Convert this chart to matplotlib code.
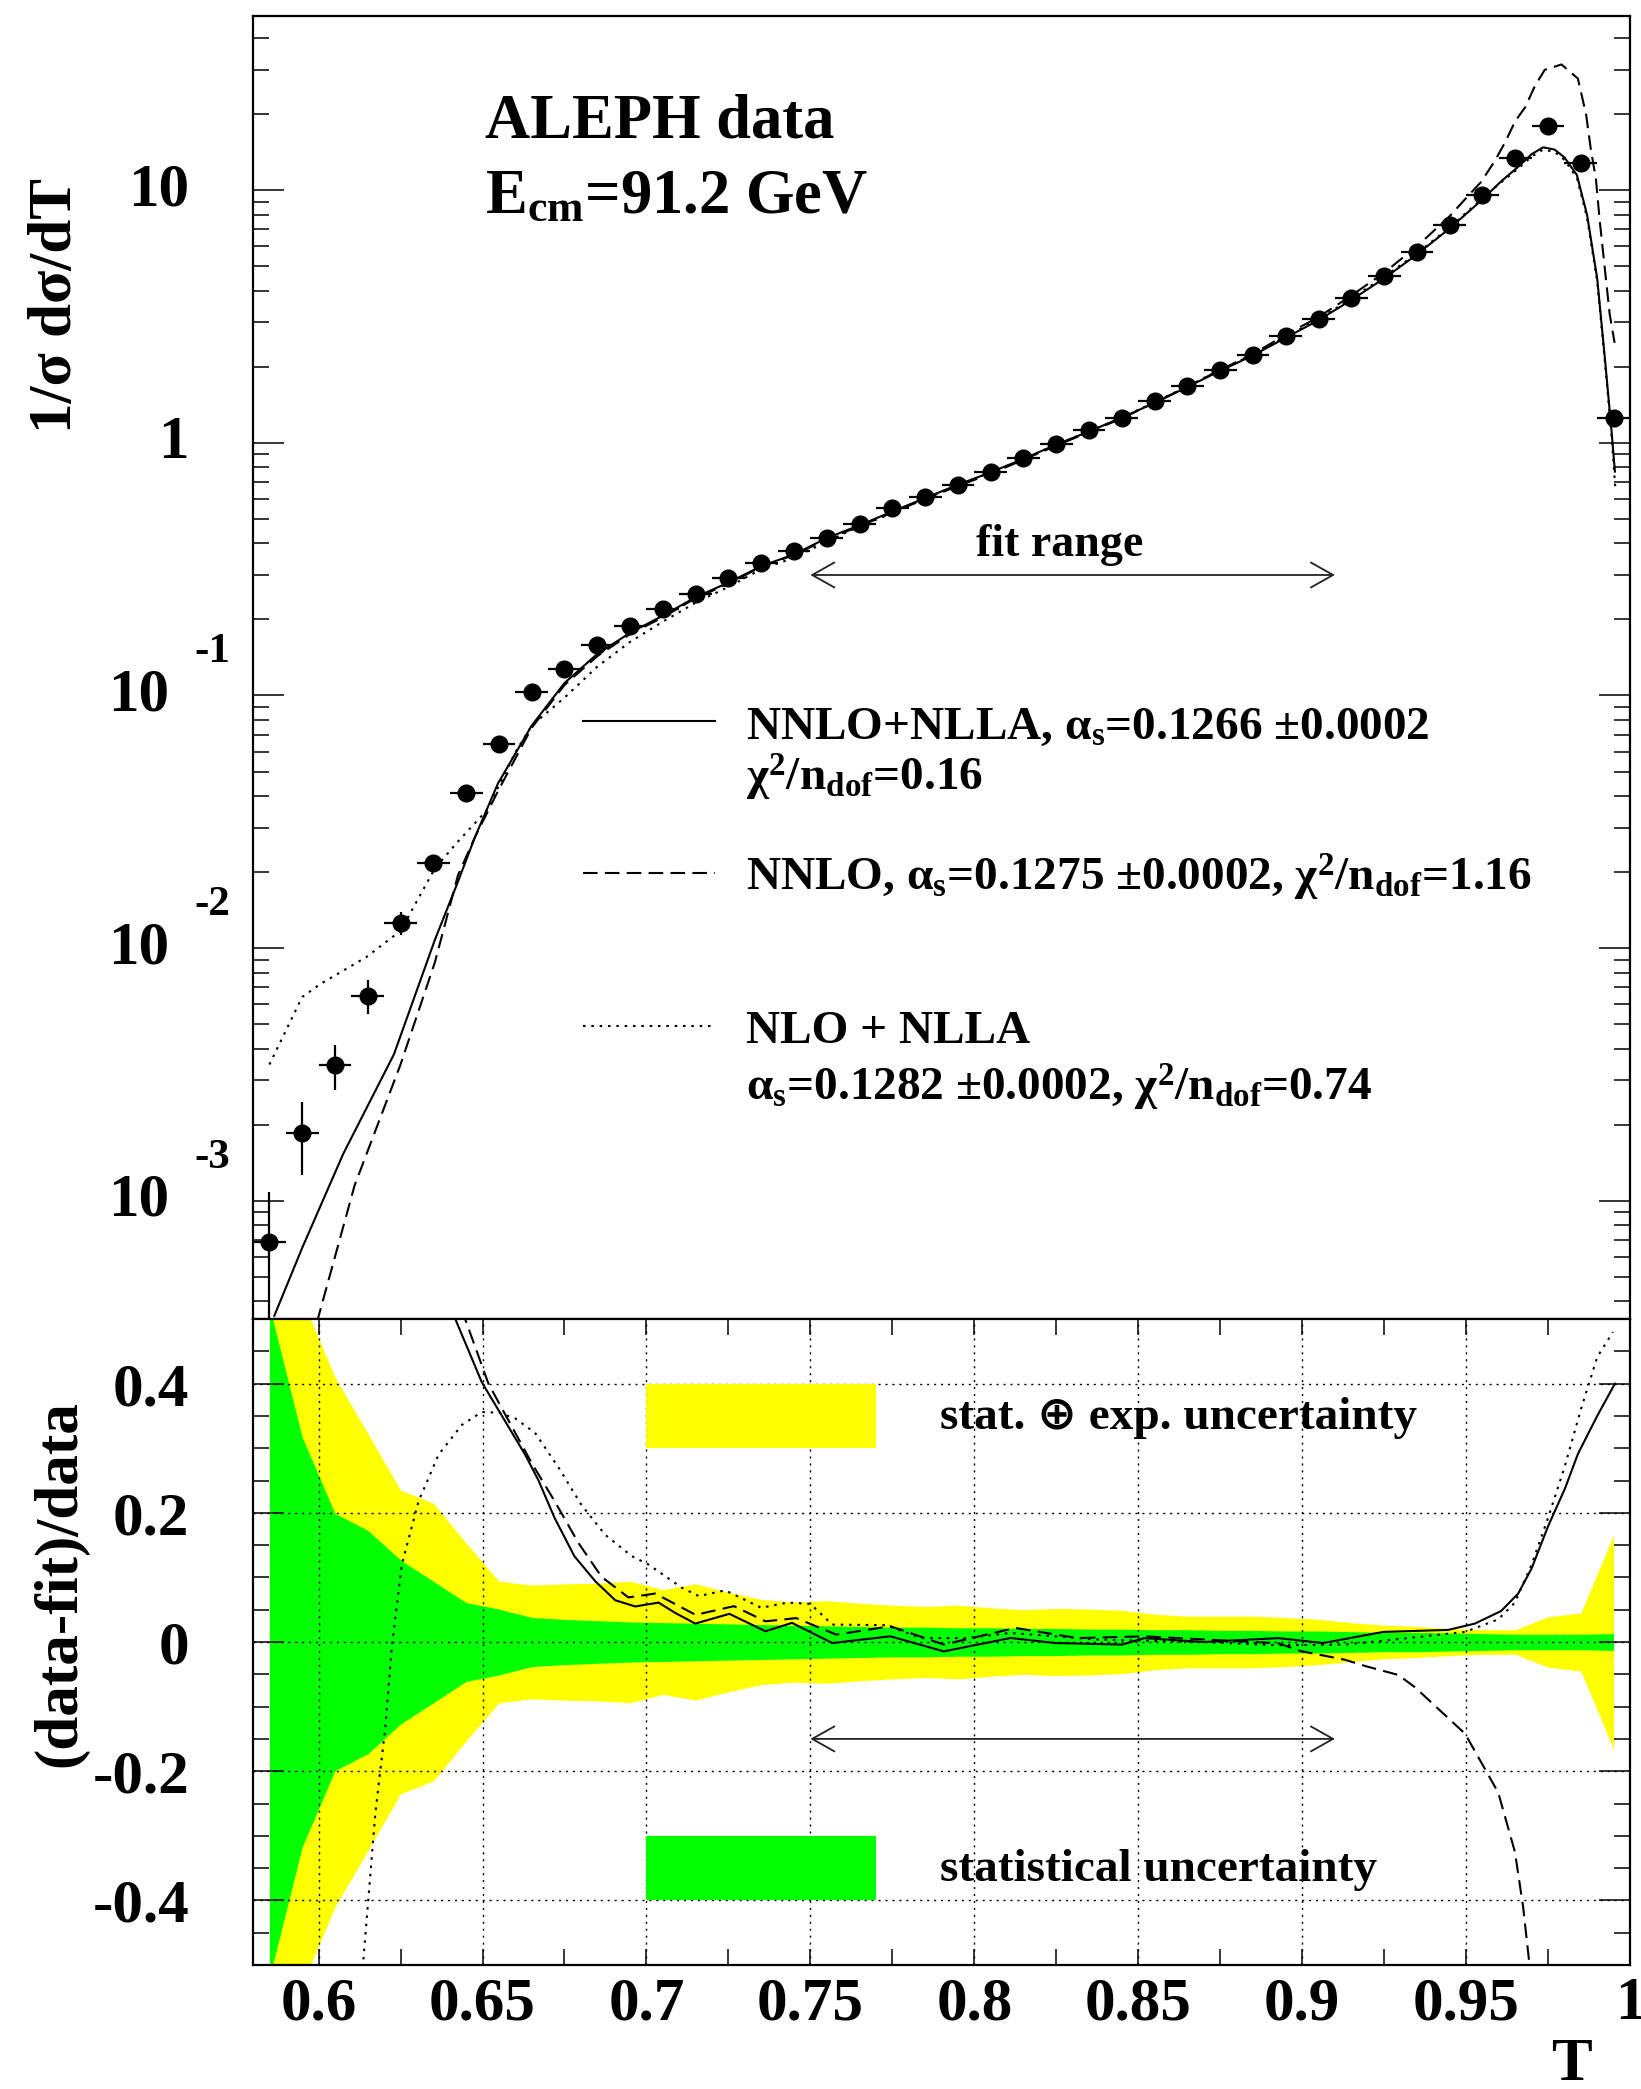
import numpy as np
import matplotlib
matplotlib.use("Agg")
import matplotlib.pyplot as plt
import matplotlib.transforms as mtransforms
from matplotlib.lines import Line2D
from matplotlib.patches import Rectangle
from matplotlib.ticker import FixedLocator, LogLocator, MultipleLocator, NullFormatter

# ---------------------------------------------------------------------------
# ALEPH thrust distribution at the Z pole, with three fitted predictions
# ---------------------------------------------------------------------------

# bin centres (bin width 0.01)
thrust_bins = [0.585, 0.595, 0.605, 0.615, 0.625, 0.635, 0.645, 0.655, 0.665, 0.675,
               0.685, 0.695, 0.705, 0.715, 0.725, 0.735, 0.745, 0.755, 0.765, 0.775,
               0.785, 0.795, 0.805, 0.815, 0.825, 0.835, 0.845, 0.855, 0.865, 0.875,
               0.885, 0.895, 0.905, 0.915, 0.925, 0.935, 0.945, 0.955, 0.965, 0.975,
               0.985, 0.995]
half_width = 0.005

# 1/sigma dsigma/dT and its total error
data_vals = [0.000684, 0.00186, 0.00345, 0.00648, 0.01258, 0.0217, 0.0412, 0.0645, 0.103, 0.127,
             0.159, 0.188, 0.220, 0.253, 0.292, 0.334, 0.373, 0.42, 0.478, 0.55,
             0.61, 0.68, 0.77, 0.875, 0.99, 1.12, 1.26, 1.47, 1.68, 1.95,
             2.23, 2.65, 3.09, 3.74, 4.58, 5.69, 7.26, 9.58, 13.4, 18.0,
             12.8, 1.25]
data_errs = [0.0004, 0.0006, 0.0007, 0.0010, 0.0013, 0.0012, 0.0015, 0.0018, 0.0025, 0.003,
             0.003, 0.003, 0.004, 0.004, 0.004, 0.005, 0.005, 0.006, 0.006, 0.007,
             0.007, 0.008, 0.009, 0.010, 0.011, 0.012, 0.013, 0.015, 0.017, 0.020,
             0.022, 0.026, 0.030, 0.036, 0.044, 0.055, 0.070, 0.090, 0.130, 0.170,
             0.130, 0.040]

# relative uncertainty bands for the ratio panel
stat_err = [0.52, 0.317, 0.199, 0.173, 0.127, 0.094, 0.061, 0.051, 0.038, 0.035,
            0.033, 0.031, 0.030, 0.029, 0.028, 0.027, 0.026, 0.025, 0.024, 0.023,
            0.023, 0.022, 0.022, 0.021, 0.021, 0.020, 0.020, 0.019, 0.019, 0.018,
            0.018, 0.017, 0.017, 0.016, 0.015, 0.015, 0.014, 0.013, 0.012, 0.012,
            0.012, 0.013]
total_err = [0.75, 0.53, 0.41, 0.323, 0.235, 0.215, 0.153, 0.094, 0.088, 0.090,
             0.091, 0.094, 0.081, 0.090, 0.077, 0.066, 0.062, 0.064, 0.060, 0.057,
             0.055, 0.057, 0.053, 0.050, 0.052, 0.051, 0.049, 0.043, 0.040, 0.040,
             0.040, 0.038, 0.035, 0.030, 0.026, 0.024, 0.021, 0.019, 0.019, 0.039,
             0.045, 0.166]

# NNLO+NLLA prediction
nnlo_nlla_T = [0.5865, 0.595, 0.6075, 0.623, 0.6355, 0.6425, 0.6477, 0.6547, 0.665, 0.675,
               0.685, 0.695, 0.705, 0.715, 0.725, 0.735, 0.745, 0.755, 0.765, 0.775,
               0.785, 0.795, 0.805, 0.815, 0.825, 0.835, 0.845, 0.855, 0.865, 0.875,
               0.885, 0.895, 0.905, 0.915, 0.925, 0.935, 0.945, 0.955, 0.9605, 0.9659,
               0.970, 0.9735, 0.977, 0.980, 0.9838, 0.9869, 0.990, 0.9923, 0.9943, 0.9954]
nnlo_nlla_y = [3.5e-4, 6.5e-4, 1.53e-3, 3.8e-3, 0.0108, 0.0183, 0.0275, 0.0448, 0.076, 0.112,
               0.146, 0.177, 0.207, 0.245, 0.28, 0.325, 0.362, 0.42, 0.472, 0.535,
               0.605, 0.683, 0.765, 0.865, 0.985, 1.11, 1.26, 1.44, 1.665, 1.93,
               2.22, 2.61, 3.06, 3.68, 4.48, 5.57, 7.07, 9.2, 10.8, 12.4,
               13.9, 14.8, 14.5, 13.5, 11.5, 8.0, 4.47, 2.19, 1.14, 0.77]

# NNLO prediction
nnlo_T = [0.5995, 0.611, 0.625, 0.6355, 0.6425, 0.6477, 0.655, 0.665, 0.675, 0.685,
          0.695, 0.705, 0.715, 0.725, 0.735, 0.745, 0.755, 0.765, 0.775, 0.785,
          0.795, 0.805, 0.815, 0.825, 0.835, 0.845, 0.855, 0.865, 0.875, 0.885,
          0.895, 0.905, 0.915, 0.925, 0.935, 0.945, 0.9506, 0.9546, 0.9588, 0.9618,
          0.965, 0.968, 0.971, 0.974, 0.9791, 0.9841, 0.9866, 0.9881, 0.9896, 0.9908,
          0.9923, 0.9938, 0.9953]
nnlo_y = [3.3e-4, 1.15e-3, 3.46e-3, 8.8e-3, 0.0194, 0.0275, 0.0425, 0.0745, 0.110, 0.143,
          0.175, 0.204, 0.243, 0.277, 0.323, 0.36, 0.415, 0.468, 0.53, 0.60,
          0.675, 0.755, 0.858, 0.975, 1.105, 1.25, 1.445, 1.67, 1.945, 2.25,
          2.68, 3.15, 3.83, 4.72, 6.0, 7.9, 9.5, 10.8, 13.1, 15.4,
          18.8, 21.3, 25.9, 30.0, 31.5, 27.7, 20.0, 14.4, 11.1, 7.5,
          4.93, 3.24, 2.49]

# NLO+NLLA prediction
nlo_nlla_T = [0.585, 0.595, 0.6005, 0.6145, 0.625, 0.6355, 0.6425, 0.6513, 0.66, 0.665,
              0.675, 0.685, 0.695, 0.705, 0.715, 0.725, 0.735, 0.745, 0.755, 0.765,
              0.775, 0.785, 0.795, 0.805, 0.815, 0.825, 0.835, 0.845, 0.855, 0.865,
              0.875, 0.885, 0.895, 0.905, 0.915, 0.925, 0.935, 0.945, 0.955, 0.9605,
              0.9659, 0.970, 0.9735, 0.977, 0.980, 0.9838, 0.9869, 0.990, 0.9923, 0.9943,
              0.9955]
nlo_nlla_y = [3.46e-3, 6.4e-3, 7.2e-3, 9.2e-3, 0.0117, 0.0207, 0.0264, 0.0351, 0.0595, 0.076,
              0.098, 0.13, 0.163, 0.196, 0.233, 0.269, 0.316, 0.351, 0.407, 0.467,
              0.527, 0.605, 0.676, 0.765, 0.862, 0.985, 1.11, 1.26, 1.45, 1.675,
              1.945, 2.235, 2.64, 3.09, 3.73, 4.54, 5.63, 7.13, 9.3, 10.7,
              12.2, 13.6, 14.5, 14.2, 13.2, 11.2, 7.8, 4.35, 2.12, 1.1,
              0.67]

# (data-fit)/data for each prediction
ratio_nnlo_nlla_T = [0.6405, 0.6417, 0.6498, 0.663, 0.667, 0.672, 0.678, 0.6844, 0.6905, 0.6966,
                     0.7037, 0.7088, 0.7149, 0.7253, 0.7363, 0.7444, 0.7567, 0.7744, 0.7907, 0.8111,
                     0.8247, 0.8451, 0.8519, 0.87, 0.8927, 0.9064, 0.9247, 0.9445, 0.9527, 0.9607,
                     0.9659, 0.970, 0.975, 0.9802, 0.9841, 0.990, 0.9954]
ratio_nnlo_nlla = [0.515, 0.5, 0.402, 0.29, 0.251, 0.192, 0.133, 0.094, 0.0646, 0.055,
                   0.061, 0.045, 0.0285, 0.0436, 0.0166, 0.0296, -0.0016, 0.0088, -0.0145, 0.0062,
                   -0.0016, -0.004, 0.006, 0.0, 0.006, -0.0016, 0.0156, 0.0187, 0.0285, 0.048,
                   0.075, 0.114, 0.179, 0.238, 0.291, 0.35, 0.40]

ratio_nnlo_T = [0.6435, 0.6447, 0.6518, 0.665, 0.672, 0.6793, 0.6863, 0.6945, 0.7027, 0.715,
                0.7267, 0.7363, 0.7457, 0.7579, 0.7744, 0.7907, 0.8125, 0.8315, 0.8519, 0.8927,
                0.8996, 0.9131, 0.9191, 0.9293, 0.9344, 0.9497, 0.9598, 0.9649, 0.9674, 0.9694,
                0.9700]
ratio_nnlo = [0.515, 0.5, 0.40, 0.277, 0.218, 0.153, 0.101, 0.069, 0.075, 0.042,
              0.0555, 0.032, 0.037, 0.0114, 0.0244, -0.004, 0.0218, 0.006, 0.0088, -0.002,
              -0.014, -0.0275, -0.037, -0.051, -0.07, -0.142, -0.233, -0.325, -0.41, -0.502,
              -0.53]

ratio_nlo_nlla_T = [0.6133, 0.6137, 0.6173, 0.6203, 0.6224, 0.6254, 0.6305, 0.6366, 0.6437, 0.6498,
                    0.655, 0.66, 0.666, 0.6732, 0.6802, 0.6874, 0.6955, 0.7006, 0.7108, 0.716,
                    0.724, 0.735, 0.743, 0.75, 0.7567, 0.773, 0.7838, 0.7976, 0.811, 0.8383,
                    0.87, 0.8927, 0.913, 0.9247, 0.9497, 0.9598, 0.9649, 0.970, 0.975, 0.980,
                    0.9852, 0.990, 0.9948]
ratio_nlo_nlla = [-0.53, -0.49, -0.266, -0.135, -0.004, 0.12, 0.218, 0.29, 0.336, 0.356,
                  0.355, 0.346, 0.324, 0.27, 0.212, 0.166, 0.133, 0.12, 0.084, 0.071,
                  0.08, 0.053, 0.061, 0.059, 0.027, 0.026, 0.006, 0.006, 0.014, 0.0036,
                  0.0, -0.005, -0.004, 0.002, 0.0156, 0.035, 0.061, 0.12, 0.192, 0.27,
                  0.363, 0.441, 0.48]

fit_range = [0.75, 0.91]

legend_texts = [
    ("NNLO+NLLA, α$_{\\rm s}$=0.1266 ±0.0002", "χ$^{\\rm 2}$/n$_{\\rm dof}$=0.16"),
    ("NNLO, α$_{\\rm s}$=0.1275 ±0.0002, χ$^{\\rm 2}$/n$_{\\rm dof}$=1.16", None),
    ("NLO + NLLA", "α$_{\\rm s}$=0.1282 ±0.0002, χ$^{\\rm 2}$/n$_{\\rm dof}$=0.74"),
]

# ---------------------------------------------------------------------------
W, H = 1641, 2089

plt.rcParams['font.family'] = ['Liberation Serif', 'DejaVu Sans']
plt.rcParams['font.weight'] = 'bold'
plt.rcParams['mathtext.fontset'] = 'custom'
plt.rcParams['mathtext.rm'] = 'Liberation Serif:bold'
plt.rcParams['mathtext.it'] = 'Liberation Serif:bold'
plt.rcParams['mathtext.bf'] = 'Liberation Serif:bold'


def fx(px):
    return px / W


def fy(py):
    return 1 - py / H


SOLID = '-'
DASHED = (0, (7, 3.5))
DOTTED = (0, (1.2, 2.8))
LW = 1.5

fig = plt.figure(figsize=(W / 100, H / 100), dpi=100)
ax1 = fig.add_axes([fx(253), fy(1319), fx(1630) - fx(253), fy(16) - fy(1319)])
ax2 = fig.add_axes([fx(253), fy(1965), fx(1630) - fx(253), fy(1319) - fy(1965)])

for ax in (ax1, ax2):
    ax.set_xlim(0.58, 1.0)
    for s in ax.spines.values():
        s.set_linewidth(1.6)

# --- upper panel -----------------------------------------------------------
ax1.set_yscale('log')
ax1.set_ylim(3.4e-4, 49)
ax1.plot(nnlo_nlla_T, nnlo_nlla_y, color='k', lw=LW, ls=SOLID, zorder=3)
ax1.plot(nnlo_T, nnlo_y, color='k', lw=LW, ls=DASHED, zorder=3)
ax1.plot(nlo_nlla_T, nlo_nlla_y, color='k', lw=LW, ls=DOTTED, zorder=3)
ax1.errorbar(thrust_bins, data_vals, yerr=data_errs, xerr=half_width, fmt='o',
             color='k', ms=12, elinewidth=1.6, capsize=0, zorder=5)

ax1.yaxis.set_major_locator(FixedLocator([1e-3, 1e-2, 1e-1, 1, 10]))
ax1.yaxis.set_minor_locator(LogLocator(base=10, subs=np.arange(2, 10)))
ax1.yaxis.set_major_formatter(NullFormatter())
ax1.yaxis.set_minor_formatter(NullFormatter())
ax1.tick_params(axis='x', which='both', bottom=False, top=False, labelbottom=False)
ax1.tick_params(axis='y', which='both', direction='in', left=True, right=True,
                labelleft=False, width=1.1)
ax1.tick_params(axis='y', which='major', length=22)
ax1.tick_params(axis='y', which='minor', length=11.5)

# ROOT style log labels
trans = mtransforms.blended_transform_factory(fig.transFigure, ax1.transData)
for v, txt in [(10, '10'), (1, '1')]:
    ax1.text(fx(189), v, txt, transform=trans, ha='right', va='center', fontsize=44)
for v, ex in [(1e-1, '-1'), (1e-2, '-2'), (1e-3, '-3')]:
    ax1.text(fx(169), v, '10', transform=trans, ha='right', va='center', fontsize=44)
    ax1.annotate(ex, xy=(fx(194), v), xycoords=trans, xytext=(0, 43),
                 textcoords='offset pixels', ha='left', va='center', fontsize=31)

fig.text(fx(485), fy(138), 'ALEPH data', fontsize=45, va='baseline')
fig.text(fx(485), fy(213), 'E$_{\\rm cm}$=91.2 GeV', fontsize=45, va='baseline')

ax1.annotate('', xy=(fit_range[0], 0.3), xytext=(fit_range[1], 0.3),
             arrowprops=dict(arrowstyle='<->,head_length=0.8,head_width=0.45',
                             lw=1.3, color='#222222', mutation_scale=20,
                             shrinkA=0, shrinkB=0))
fig.text(fx(1060), fy(556), 'fit range', fontsize=33, ha='center', va='baseline')

# legend of the predictions
legend_rows = [(721, SOLID, 739, 791), (873, DASHED, 891, None), (1026, DOTTED, 1043, 1101)]
for (ly, ls, b1, b2), (t1, t2) in zip(legend_rows, legend_texts):
    fig.add_artist(Line2D([fx(583), fx(715)], [fy(ly), fy(ly)], transform=fig.transFigure,
                          color='k', lw=LW, ls=ls))
    fig.text(fx(746), fy(b1), t1, fontsize=34, va='baseline')
    if t2:
        fig.text(fx(746), fy(b2), t2, fontsize=34, va='baseline')

fig.text(fx(56), fy(178), '1/σ dσ/dT', rotation=90, ha='center', va='top', fontsize=44)

# --- ratio panel -----------------------------------------------------------
ax2.set_ylim(-0.5, 0.5)
ax2.fill_between(thrust_bins, -np.array(total_err), total_err, color='#ffff00', lw=0, zorder=1)
ax2.fill_between(thrust_bins, -np.array(stat_err), stat_err, color='#00ff00', lw=0, zorder=2)

ax2.add_patch(Rectangle((0.70, 0.30), 0.07, 0.10, color='#ffff00', lw=0, zorder=3))
ax2.add_patch(Rectangle((0.70, -0.40), 0.07, 0.10, color='#00ff00', lw=0, zorder=3))
ax2.text(0.7895, 0.347, 'stat. ⊕ exp. uncertainty', fontsize=34, va='center')
ax2.text(0.7895, -0.353, 'statistical uncertainty', fontsize=34, va='center')

ax2.plot(ratio_nnlo_nlla_T, ratio_nnlo_nlla, color='k', lw=LW, ls=SOLID, zorder=4)
ax2.plot(ratio_nnlo_T, ratio_nnlo, color='k', lw=LW, ls=DASHED, zorder=4)
ax2.plot(ratio_nlo_nlla_T, ratio_nlo_nlla, color='k', lw=LW, ls=DOTTED, zorder=4)

ax2.annotate('', xy=(fit_range[0], -0.15), xytext=(fit_range[1], -0.15),
             arrowprops=dict(arrowstyle='<->,head_length=0.8,head_width=0.45',
                             lw=1.3, color='#222222', mutation_scale=20,
                             shrinkA=0, shrinkB=0))

ax2.set_axisbelow(False)
ax2.grid(True, which='major', color='k', lw=1.0, ls=(0, (1.5, 3.5)))
ax2.set_xticks([0.6, 0.65, 0.7, 0.75, 0.8, 0.85, 0.9, 0.95, 1.0],
               ['0.6', '0.65', '0.7', '0.75', '0.8', '0.85', '0.9', '0.95', '1'])
ax2.set_yticks([-0.4, -0.2, 0, 0.2, 0.4], ['-0.4', '-0.2', '0', '0.2', '0.4'])
ax2.xaxis.set_minor_locator(MultipleLocator(0.025))
ax2.yaxis.set_minor_locator(MultipleLocator(0.05))
ax2.tick_params(axis='x', which='both', direction='in', top=True, bottom=True,
                length=11.5, width=1.1, labelsize=44, pad=8)
ax2.tick_params(axis='y', which='both', direction='in', left=True, right=True,
                width=1.1, labelsize=44, pad=46)
ax2.tick_params(axis='y', which='major', length=22)
ax2.tick_params(axis='y', which='minor', length=11.5)

fig.text(fx(60), fy(1400), '(data-fit)/data', rotation=90, ha='center', va='top', fontsize=44)
fig.text(fx(1571), fy(2080), 'T', ha='center', va='baseline', fontsize=44)

fig.savefig('out.png', dpi=100)
